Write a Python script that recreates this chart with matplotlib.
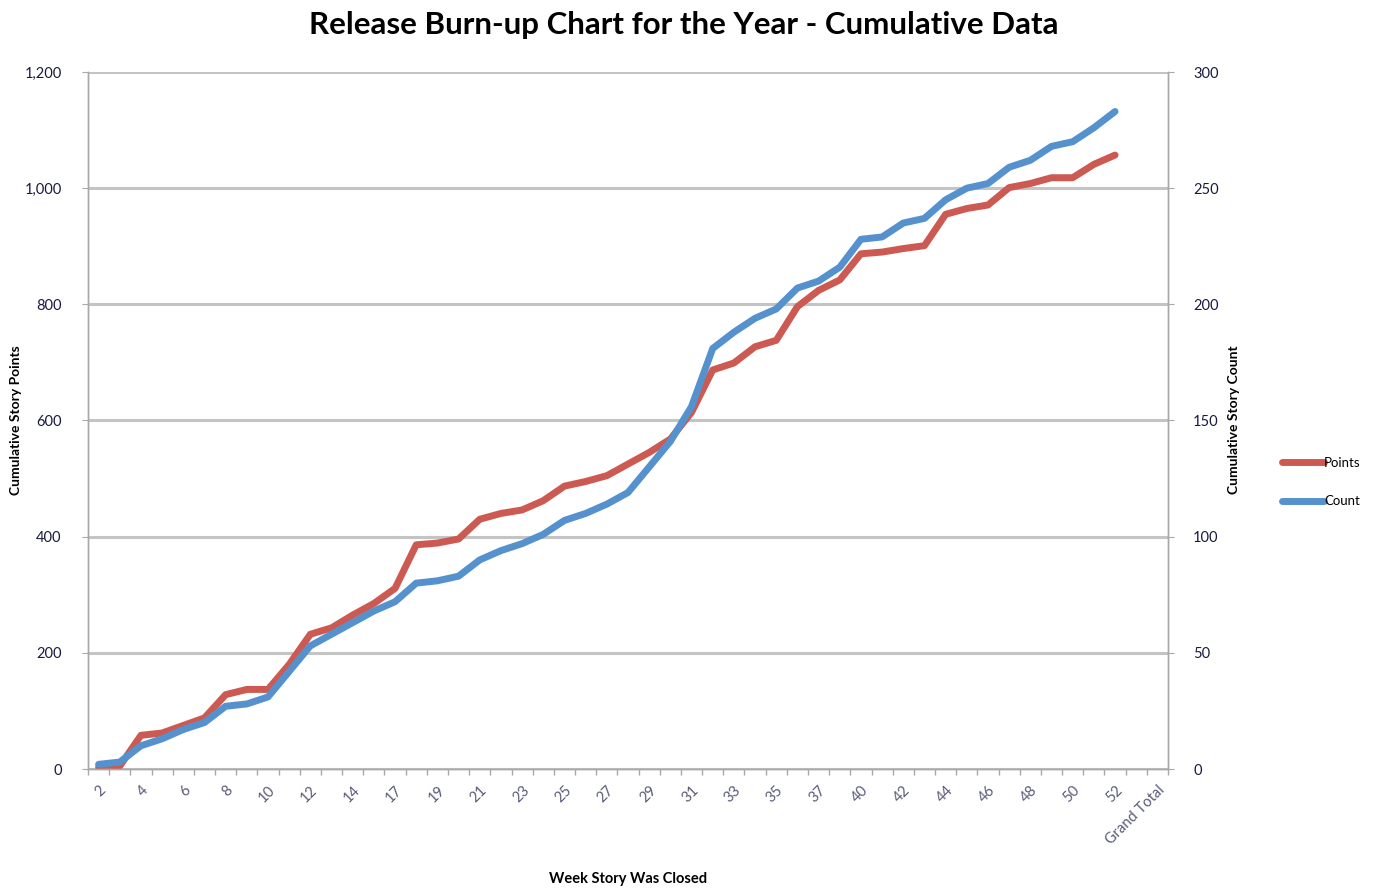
import matplotlib
matplotlib.use("Agg")
import matplotlib.pyplot as plt
import numpy as np

# ---- data ----
weeks = [str(w) for w in list(range(2, 15)) + [16] + list(range(17, 38)) + [39] + list(range(40, 53))]
categories = weeks + ["(blank)", "Grand Total"]

points = [3, 5, 58, 62, 75, 88, 128, 137, 137, 180, 232, 243, 265, 285, 311,
          386, 389, 396, 430, 440, 446, 462, 487, 495, 505, 525, 545, 568, 614,
          687, 699, 727, 738, 796, 824, 842, 887, 890, 896, 901, 955, 965, 971,
          1001, 1008, 1018, 1018, 1041, 1057]
count = [2, 3, 10, 13, 17, 20, 27, 28, 31, 42, 53, 58, 63, 68, 72,
         80, 81, 83, 90, 94, 97, 101, 107, 110, 114, 119, 130, 141, 156,
         181, 188, 194, 198, 207, 210, 216, 228, 229, 235, 237, 245, 250, 252,
         259, 262, 268, 270, 276, 283]

left_ticks = [0, 200, 400, 600, 800, 1000, 1200]
right_ticks = [0, 50, 100, 150, 200, 250, 300]

# ---- style ----
plt.rcParams['font.family'] = ['Lato', 'DejaVu Sans']
red = '#CD5A52'
blue = '#5592CD'
grid_c = '#C4C4C4'
axis_c = '#A8A8A8'
lab_c = '#1a1a40'

W, H = 1396, 888
fig = plt.figure(figsize=(W/100, H/100), dpi=100)
ax = fig.add_axes([88/W, 1-769/H, (1168-88)/W, (769-72)/H])
ax2 = ax.twinx()

x = np.arange(len(categories))
n = len(points)
ax.plot(x[:n], points, color=red, lw=5, solid_joinstyle='round', solid_capstyle='round', label='Points')
ax2.plot(x[:n], count, color=blue, lw=5, solid_joinstyle='round', solid_capstyle='round', label='Count')

ax.set_xlim(-0.5, len(categories)-0.5)
ax.set_ylim(0, 1200)
ax2.set_ylim(0, 300)

ax.set_yticks(left_ticks)
ax.set_yticklabels([f"{v:,}" for v in left_ticks], fontsize=10.5, color=lab_c)
ax2.set_yticks(right_ticks)
ax2.set_yticklabels([str(v) for v in right_ticks], fontsize=10.5, color=lab_c)

ax.yaxis.grid(True, color=grid_c, lw=2.2)
ax.set_axisbelow(True)

# x ticks: boundaries (minor marks) and labels at every other category
ax.set_xticks(np.arange(len(categories)+1) - 0.5, minor=True)
ax.tick_params(axis='x', which='minor', length=4, color=axis_c, width=1)
ax.set_xticks(x[::2])
ax.set_xticklabels(categories[::2], rotation=45, ha='right', rotation_mode='anchor',
                   fontsize=10.5, color='#5a5a7a')
ax.tick_params(axis='x', which='major', length=0, pad=10)
ax.tick_params(axis='y', length=4, color=axis_c, pad=15)
ax2.tick_params(axis='y', length=4, color=axis_c, pad=14)

for a in (ax, ax2):
    a.spines['top'].set_visible(False)
    for s in ('left', 'right', 'bottom'):
        a.spines[s].set_color(axis_c)
        a.spines[s].set_linewidth(1)

fig.text(16/W, 1-420/H, 'Cumulative Story Points', fontsize=10, fontweight='bold',
         rotation=90, ha='center', va='center')
fig.text(1234/W, 1-420/H, 'Cumulative Story Count', fontsize=10, fontweight='bold',
         rotation=90, ha='center', va='center')
fig.text(628/W, 1-879/H, 'Week Story Was Closed', fontsize=10.5, fontweight='bold',
         ha='center', va='center')

fig.text(684/W, 1-25/H, 'Release Burn-up Chart for the Year - Cumulative Data', fontsize=22.5,
         fontweight='bold', ha='center', va='center')

h1, l1 = ax.get_legend_handles_labels()
h2, l2 = ax2.get_legend_handles_labels()
fig.legend(h1 + h2, l1 + l2, loc='center left', bbox_to_anchor=(1270/W, 1-482/H),
           frameon=False, fontsize=9.5, handlelength=3.2, handletextpad=0.0, labelspacing=2.0)

fig.savefig('out.png', dpi=100)
